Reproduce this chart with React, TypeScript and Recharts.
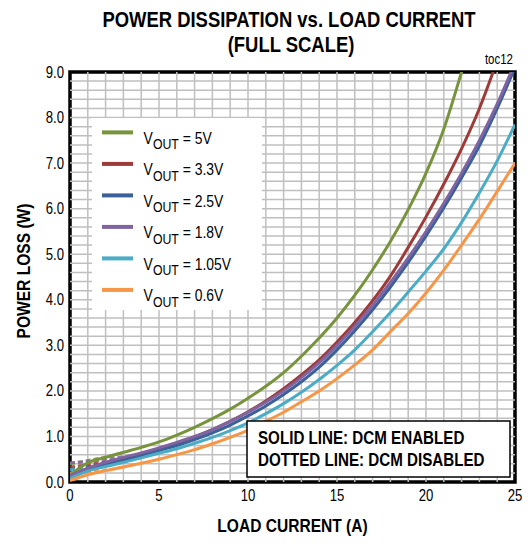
import React from 'react';
import {
  LineChart,
  Line,
  XAxis,
  YAxis,
  ReferenceLine,
  ReferenceArea,
  Label,
} from 'recharts';

// ---------- data ----------
const currentA = [0, 1, 2, 3, 4, 5, 6, 7, 8, 9, 10, 11, 12, 13, 14, 15, 16, 17, 18, 19, 20, 21, 22, 23, 24, 25];

// DCM enabled (solid)
const p5V = [0.15, 0.42, 0.54, 0.65, 0.76, 0.88, 1.03, 1.2, 1.39, 1.6, 1.84, 2.1, 2.4, 2.76, 3.16, 3.6, 4.1, 4.66, 5.28, 5.98, 6.78, 7.75, 9.0, 10.3, null, null];
const p3V3 = [0.12, 0.3, 0.42, 0.52, 0.62, 0.73, 0.85, 0.99, 1.15, 1.33, 1.54, 1.78, 2.05, 2.35, 2.68, 3.07, 3.5, 3.98, 4.52, 5.15, 5.82, 6.54, 7.32, 8.2, 9.25, null];
const p2V5 = [0.1, 0.27, 0.38, 0.48, 0.58, 0.69, 0.8, 0.93, 1.08, 1.25, 1.45, 1.67, 1.92, 2.2, 2.52, 2.9, 3.32, 3.78, 4.28, 4.82, 5.4, 6.02, 6.68, 7.38, 8.2, 9.1];
const p1V8 = [0.14, 0.3, 0.43, 0.54, 0.64, 0.75, 0.87, 1.0, 1.15, 1.33, 1.53, 1.75, 2.0, 2.29, 2.62, 3.0, 3.42, 3.88, 4.38, 4.92, 5.5, 6.12, 6.78, 7.5, 8.3, 9.2];
const p1V05 = [0.08, 0.24, 0.34, 0.43, 0.53, 0.63, 0.73, 0.85, 0.98, 1.13, 1.3, 1.5, 1.72, 1.97, 2.25, 2.56, 2.9, 3.3, 3.72, 4.17, 4.63, 5.12, 5.7, 6.35, 7.05, 7.85];
const p0V6 = [0.03, 0.16, 0.25, 0.33, 0.41, 0.5, 0.6, 0.71, 0.84, 0.98, 1.14, 1.33, 1.53, 1.76, 2.0, 2.27, 2.57, 2.9, 3.3, 3.7, 4.15, 4.65, 5.2, 5.77, 6.38, 7.0];

// DCM disabled (dotted) - only differs at light load
const d5V = [0.4, 0.47, 0.55, 0.65];
const d3V3 = [0.33, 0.38, 0.45, 0.52];
const d2V5 = [0.28, 0.33, 0.4, 0.48];
const d1V8 = [0.42, 0.45, 0.5, 0.56];
const d1V05 = [0.27, 0.3, 0.36, 0.43];
const d0V6 = [0.2, 0.22, 0.26, 0.33];

const xTicks = [0, 5, 10, 15, 20, 25];
const yTicks = [0, 1, 2, 3, 4, 5, 6, 7, 8, 9];
const xGrid = [1, 2, 3, 4, 5, 6, 7, 8, 9, 10, 11, 12, 13, 14, 15, 16, 17, 18, 19, 20, 21, 22, 23, 24];
const yGrid = [0.2, 0.4, 0.6, 0.8, 1, 1.2, 1.4, 1.6, 1.8, 2, 2.2, 2.4, 2.6, 2.8, 3, 3.2, 3.4, 3.6, 3.8, 4, 4.2, 4.4, 4.6, 4.8, 5, 5.2, 5.4, 5.6, 5.8, 6, 6.2, 6.4, 6.6, 6.8, 7, 7.2, 7.4, 7.6, 7.8, 8, 8.2, 8.4, 8.6, 8.8];

const seriesNames = ['5V', '3.3V', '2.5V', '1.8V', '1.05V', '0.6V'];
const seriesColors = ['#77933C', '#9E3A38', '#3A619A', '#8064A2', '#4BACC6', '#F79646'];
const solidSets = [p5V, p3V3, p2V5, p1V8, p1V05, p0V6];
const dottedSets = [d5V, d3V3, d2V5, d1V8, d1V05, d0V6];

const table = currentA.map((a, i) => {
  const row: Record<string, number | null | undefined> = { a };
  solidSets.forEach((s, k) => {
    row['s' + k] = s[i];
  });
  dottedSets.forEach((s, k) => {
    row['d' + k] = i < s.length ? s[i] : undefined;
  });
  return row;
});

const FONT = "'Liberation Sans', Arial, sans-serif";
const SQ = 0.82; // horizontal squeeze to imitate a narrow face

// narrow text helper: squeezes text horizontally around its anchor point
const NText = ({ x, y, size, bold, anchor, rotate, children }: any) => (
  <g transform={`translate(${x} ${y})${rotate ? ` rotate(${rotate})` : ''} scale(${SQ} 1)`}>
    <text
      x={0}
      y={0}
      textAnchor={anchor || 'start'}
      fontFamily={FONT}
      fontWeight={bold ? 'bold' : 'normal'}
      fontSize={size}
      fill="#000"
    >
      {children}
    </text>
  </g>
);

const XTick = ({ x, y, payload }: any) => (
  <NText x={x} y={y + 13} size={16} anchor="middle">
    {payload.value}
  </NText>
);

const YTick = ({ x, y, payload }: any) => (
  <NText x={x} y={y + 5.5} size={16} anchor="end">
    {Number(payload.value).toFixed(1)}
  </NText>
);

export default function App() {
  return (
    <div style={{ position: 'absolute', left: 0, top: 0, width: 528, height: 547, background: '#fff' }}>
      <LineChart width={528} height={547} data={table} margin={{ top: 72, right: 13, bottom: 35, left: 0 }}>
        <XAxis
          dataKey="a"
          type="number"
          domain={[0, 25]}
          ticks={xTicks}
          allowDataOverflow
          axisLine={false}
          tickLine={false}
          height={30}
          tickMargin={0}
          tick={<XTick />}
        >
          <Label
            content={({ viewBox }: any) => (
              <NText x={viewBox.x + viewBox.width / 2} y={532} size={19} bold anchor="middle">
                LOAD CURRENT  (A)
              </NText>
            )}
          />
        </XAxis>
        <YAxis
          type="number"
          domain={[0, 9]}
          ticks={yTicks}
          allowDataOverflow
          width={70}
          axisLine={false}
          tickLine={false}
          tickMargin={0}
          tick={<YTick />}
        >
          <Label
            content={({ viewBox }: any) => (
              <NText x={30} y={viewBox.y + viewBox.height / 2 - 6} size={19} bold anchor="middle" rotate={-90}>
                POWER LOSS (W)
              </NText>
            )}
          />
        </YAxis>
        {xGrid.map((v) => (
          <ReferenceLine key={'gx' + v} x={v} stroke="#BFBFBF" strokeWidth={1.5} />
        ))}
        {yGrid.map((v) => (
          <ReferenceLine key={'gy' + v} y={v} stroke="#BFBFBF" strokeWidth={1.5} />
        ))}
        {seriesNames.map((n, k) => (
          <Line
            key={'d' + k}
            dataKey={'d' + k}
            type="monotone"
            stroke={seriesColors[k]}
            strokeOpacity={0.85}
            strokeWidth={3}
            strokeDasharray="5 3"
            dot={false}
            legendType="none"
            isAnimationActive={false}
          />
        ))}
        {seriesNames.map((n, k) => (
          <Line
            key={'s' + k}
            dataKey={'s' + k}
            name={'VOUT = ' + n}
            type="monotone"
            stroke={seriesColors[k]}
            strokeWidth={3}
            dot={false}
            isAnimationActive={false}
          />
        ))}
        <ReferenceArea x1={0} x2={25} y1={0} y2={9} fill="none" stroke="#000" strokeWidth={3.5} ifOverflow="visible" />
      </LineChart>
      <svg
        width={528}
        height={547}
        style={{ position: 'absolute', left: 0, top: 0, pointerEvents: 'none' }}
      >
        <NText x={289} y={27} size={22.5} bold anchor="middle">
          POWER DISSIPATION vs. LOAD CURRENT
        </NText>
        <NText x={291} y={52} size={22.5} bold anchor="middle">
          (FULL SCALE)
        </NText>
        <NText x={513} y={64} size={14} anchor="end">
          toc12
        </NText>

        {/* legend */}
        <g transform="translate(92 118)">
          <rect x={0} y={0} width={170} height={192} fill="#fff" />
          {seriesNames.map((n, i) => (
            <g key={n}>
              <line x1={10} x2={41} y1={14.4 + i * 31.5} y2={14.4 + i * 31.5} stroke={seriesColors[i]} strokeWidth={4} />
              <g transform={`translate(51.6 ${25.7 + i * 31.5}) scale(${SQ} 1)`}>
                <text x={0} y={0} fontFamily={FONT} fontSize={17} fill="#000">
                  V
                  <tspan fontSize={15} dy={5.3}>OUT</tspan>
                  <tspan dy={-5.3}>{' = ' + n}</tspan>
                </text>
              </g>
            </g>
          ))}
        </g>

        {/* annotation */}
        <rect x={247} y={421} width={263} height={56} fill="#fff" stroke="#000" strokeWidth={1.5} />
        <NText x={258} y={443.5} size={18.5} bold>
          SOLID LINE: DCM ENABLED
        </NText>
        <NText x={258} y={466} size={18.5} bold>
          DOTTED LINE: DCM DISABLED
        </NText>
      </svg>
    </div>
  );
}
